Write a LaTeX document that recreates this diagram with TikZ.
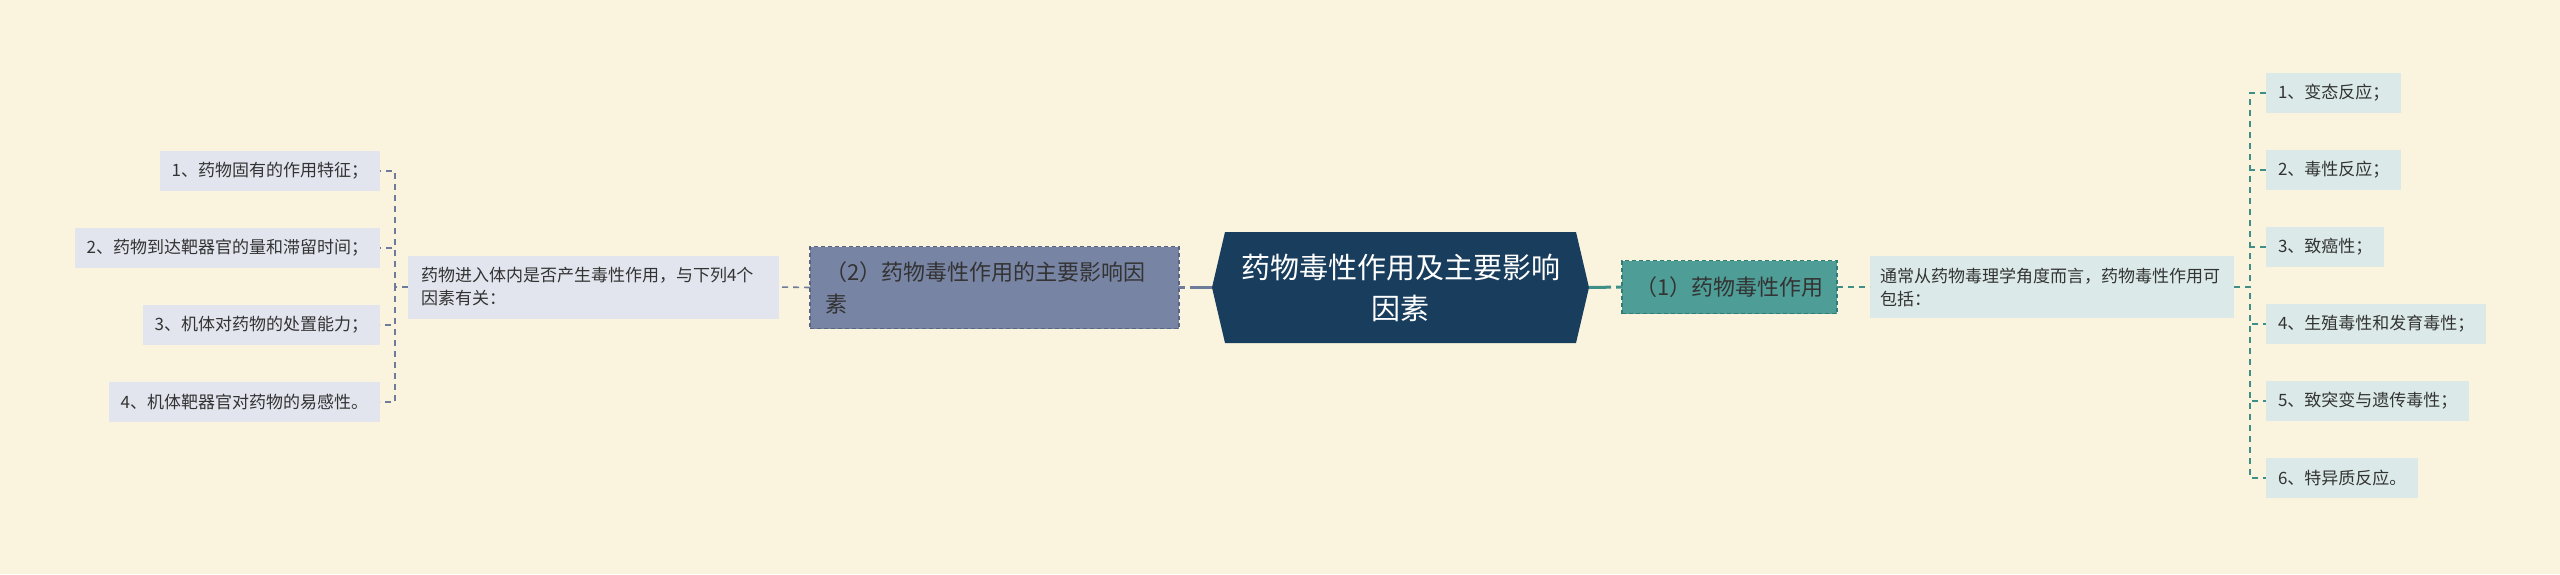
\documentclass[tikz,border=0pt]{standalone}
\usepackage{fontspec}
\setmainfont{Noto Sans CJK SC}
\usetikzlibrary{calc,backgrounds}
\definecolor{bgc}{HTML}{FAF4DE}
\definecolor{rootfill}{HTML}{183D5D}
\definecolor{onefill}{HTML}{4E9D97}
\definecolor{oneline}{HTML}{2F7D76}
\definecolor{twofill}{HTML}{7884A3}
\definecolor{twoline}{HTML}{5A6583}
\definecolor{lfill}{HTML}{E2E5EE}
\definecolor{rfill}{HTML}{DBEAE8}
\definecolor{txt}{HTML}{333333}
\definecolor{lconn}{HTML}{6F7B9A}
\definecolor{rconn}{HTML}{3F8E88}
\tikzset{
  base/.style={inner sep=0pt, outer sep=0pt, text=txt, font=\fontsize{17}{23}\selectfont},
  leafL/.style={base, fill=lfill, minimum height=40pt, inner xsep=12pt},
  leafR/.style={base, fill=rfill, minimum height=40pt, inner xsep=12pt},
  midL/.style={base, fill=lfill, minimum height=63pt, inner xsep=13pt, text width=345pt, align=left},
  midR/.style={base, fill=rfill, minimum height=62pt, inner xsep=10pt, text width=344pt, align=left},
  subA/.style={base, fill=onefill, draw=oneline, line width=1.3pt, dash pattern=on 4pt off 3pt,
    minimum width=215pt, minimum height=53pt, font=\fontsize{22}{30}\selectfont},
  subB/.style={base, fill=twofill, draw=twoline, line width=1.3pt, dash pattern=on 4pt off 3pt,
    minimum height=82pt, inner xsep=15pt, text width=339pt, align=left, font=\fontsize{22}{32}\selectfont},
  rootst/.style={inner sep=0pt, outer sep=0pt, minimum width=377pt, minimum height=111pt,
    text=white, align=center, font=\fontsize{29}{41}\selectfont},
  connL/.style={draw=lconn, line width=1.6pt, dash pattern=on 6pt off 5pt},
  connR/.style={draw=rconn, line width=1.6pt, dash pattern=on 6pt off 5pt},
  thick conn/.style={line width=3pt, dash pattern=on 22pt off 5pt},
}
\begin{document}
\begin{tikzpicture}[x=1pt,y=-1pt]
\begin{scope}[on background layer]
  \fill[bgc] (0,0) rectangle (2560,574);
\end{scope}
\path[use as bounding box] (0,0) rectangle (2560,574);

% root
\node[rootst] (root) at (1400.5,287.5) {药物毒性作用及主要影响\\因素};
\begin{scope}[on background layer]
  \fill[rootfill] ($(root.north west)+(13,0)$) -- ($(root.north east)+(-13,0)$) -- (root.east)
    -- ($(root.south east)+(-13,0)$) -- ($(root.south west)+(13,0)$) -- (root.west) -- cycle;
\end{scope}

% left branch
\node[subB, anchor=west] (two) at (810,287.5) {（2）药物毒性作用的主要影响因\\素};
\node[midL, anchor=west] (ml) at (408,287) {药物进入体内是否产生毒性作用，与下列4个\\因素有关：};
\node[leafL, anchor=east] (l1) at (380,171) {1、药物固有的作用特征；};
\node[leafL, anchor=east] (l2) at (380,248) {2、药物到达靶器官的量和滞留时间；};
\node[leafL, anchor=east] (l3) at (380,325) {3、机体对药物的处置能力；};
\node[leafL, anchor=east] (l4) at (380,402) {4、机体靶器官对药物的易感性。};

% right branch
\node[subA, anchor=west] (one) at (1622,287) {（1）药物毒性作用};
\node[midR, anchor=west] (rm) at (1870,287) {通常从药物毒理学角度而言，药物毒性作用可\\包括：};
\node[leafR, anchor=west] (r1) at (2266,93) {1、变态反应；};
\node[leafR, anchor=west] (r2) at (2266,170) {2、毒性反应；};
\node[leafR, anchor=west] (r3) at (2266,247) {3、致癌性；};
\node[leafR, anchor=west] (r4) at (2266,324) {4、生殖毒性和发育毒性；};
\node[leafR, anchor=west] (r5) at (2266,401) {5、致突变与遗传毒性；};
\node[leafR, anchor=west] (r6) at (2266,478) {6、特异质反应。};

% connectors
\draw[connL, thick conn] (root.west) -- (two.east);
\draw[connL] (two.west) -- (ml.east);
\foreach \n in {l1,l2,l3,l4}
  \draw[connL] (ml.west) -- ++(-13,0) |- (\n.east);
\draw[connR, thick conn] (root.east) -- (one.west);
\draw[connR] (one.east) -- (rm.west);
\foreach \n in {r1,r2,r3,r4,r5,r6}
  \draw[connR] (rm.east) -- ++(16,0) |- (\n.west);
\end{tikzpicture}
\end{document}
